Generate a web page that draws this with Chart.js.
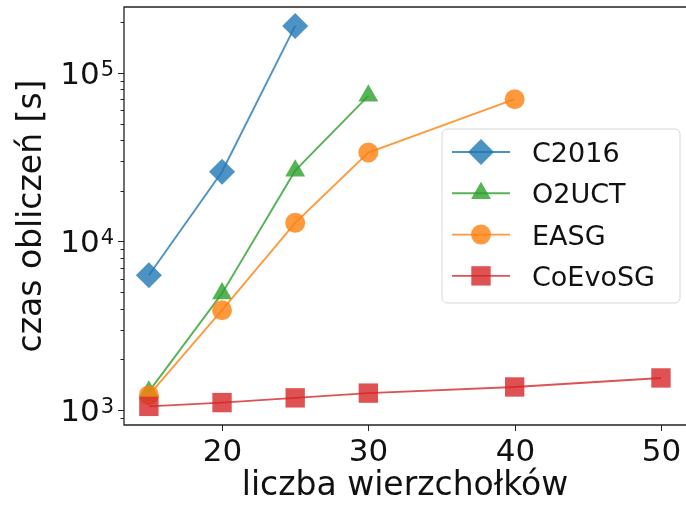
<!DOCTYPE html>
<html>
<head>
<meta charset="utf-8">
<script src="https://cdn.jsdelivr.net/npm/chart.js@4.4.1/dist/chart.umd.min.js"></script>
<style>
  body { margin: 0; background: #fff; }
  #wrap { width: 686px; height: 506px; }
</style>
</head>
<body>
<div id="wrap"><canvas id="timeChart" width="686" height="506"></canvas></div>
<script>
// computation time vs. number of vertices, log scale
const seriesNames = ["C2016", "O2UCT", "EASG", "CoEvoSG"];
const xC2016 = [15, 20, 25];
const yC2016 = [6300, 25900, 190000];
const xO2UCT = [15, 20, 25, 30];
const yO2UCT = [1285, 4920, 26300, 73100];
const xEASG = [15, 20, 25, 30, 40];
const yEASG = [1225, 3910, 12900, 33700, 69800];
const xCoEvoSG = [15, 20, 25, 30, 40, 50];
const yCoEvoSG = [1051, 1107, 1181, 1260, 1370, 1550];
const xTicks = [20, 30, 40, 50];
const yTicks = [1000, 10000, 100000];

const FONT = "'DejaVu Sans', sans-serif";

function points(xs, ys) {
  return xs.map((x, i) => ({ x: x, y: ys[i] }));
}

function series(label, xs, ys, rgb, style, radius, order) {
  return {
    label: label,
    data: points(xs, ys),
    borderColor: "rgba(" + rgb + ",0.8)",
    backgroundColor: "rgba(" + rgb + ",0.8)",
    borderWidth: 1.9,
    pointStyle: style,
    pointRadius: radius,
    pointHoverRadius: radius,
    pointBorderWidth: 0,
    pointBackgroundColor: "rgba(" + rgb + ",0.8)",
    tension: 0,
    order: order,
  };
}

// frame, log ticks with 10^n labels, and the legend box
const decorations = {
  id: "decorations",
  afterDraw(chart) {
    const ctx = chart.ctx;
    const a = chart.chartArea;
    const ys = chart.scales.y;
    const xs = chart.scales.x;
    ctx.save();
    ctx.strokeStyle = "#222";
    ctx.lineWidth = 1.3;
    ctx.beginPath();
    ctx.moveTo(a.right + 2, a.top);
    ctx.lineTo(a.left, a.top);
    ctx.lineTo(a.left, a.bottom);
    ctx.lineTo(a.right + 2, a.bottom);
    ctx.stroke();

    // y ticks, major and minor
    ctx.lineWidth = 1;
    for (let e = 2; e <= 5; e++) {
      for (let m = 1; m <= 9; m++) {
        const v = m * Math.pow(10, e);
        if (v < ys.min || v > ys.max) continue;
        const py = Math.round(ys.getPixelForValue(v)) + 0.5;
        const len = m === 1 ? 6 : 3.5;
        ctx.beginPath();
        ctx.moveTo(a.left - len, py);
        ctx.lineTo(a.left, py);
        ctx.stroke();
      }
    }
    // x ticks
    ctx.fillStyle = "#111";
    ctx.textBaseline = "alphabetic";
    ctx.font = "31px " + FONT;
    ctx.textAlign = "center";
    xTicks.forEach((v) => {
      const px = Math.round(xs.getPixelForValue(v)) + 0.5;
      ctx.beginPath();
      ctx.moveTo(px, a.bottom);
      ctx.lineTo(px, a.bottom + 6);
      ctx.stroke();
      ctx.fillText(String(v), px, 461);
    });

    // y labels as 10 with a raised exponent
    yTicks.forEach((v) => {
      const py = ys.getPixelForValue(v);
      const exp = String(Math.round(Math.log10(v)));
      ctx.font = "21px " + FONT;
      const ew = ctx.measureText(exp).width;
      ctx.textAlign = "left";
      ctx.fillText(exp, 114 - ew, py + 3);
      ctx.font = "31px " + FONT;
      ctx.textAlign = "right";
      ctx.fillText("10", 114 - ew - 1, py + 11);
    });

    // legend
    const bx = 442, by = 129, bw = 238, bh = 174, r = 5;
    ctx.beginPath();
    ctx.moveTo(bx + r, by);
    ctx.arcTo(bx + bw, by, bx + bw, by + bh, r);
    ctx.arcTo(bx + bw, by + bh, bx, by + bh, r);
    ctx.arcTo(bx, by + bh, bx, by, r);
    ctx.arcTo(bx, by, bx + bw, by, r);
    ctx.closePath();
    ctx.fillStyle = "rgba(255,255,255,0.8)";
    ctx.fill();
    ctx.strokeStyle = "#d6d6d6";
    ctx.lineWidth = 1;
    ctx.stroke();

    ctx.font = "27px " + FONT;
    ctx.textAlign = "left";
    seriesNames.forEach((name, i) => {
      const ds = chart.data.datasets.find((d) => d.label === name);
      const cy = 152 + i * 41.3;
      ctx.strokeStyle = ds.borderColor;
      ctx.lineWidth = ds.borderWidth;
      ctx.beginPath();
      ctx.moveTo(452, cy);
      ctx.lineTo(510, cy);
      ctx.stroke();
      ctx.fillStyle = ds.pointBackgroundColor;
      Chart.helpers.drawPoint(ctx, { pointStyle: ds.pointStyle, radius: ds.pointRadius, borderWidth: 0, rotation: 0 }, 481, cy);
      ctx.fillStyle = "#111";
      ctx.fillText(name, 532, cy + 10);
    });
    ctx.restore();
  },
};

const ctx = document.getElementById("timeChart").getContext("2d");
const timeChart = new Chart(ctx, {
  type: "line",
  data: {
    datasets: [
      series("C2016", xC2016, yC2016, "31,119,180", "rectRot", 13, 3),
      series("O2UCT", xO2UCT, yO2UCT, "44,160,44", "triangle", 11.5, 2),
      series("EASG", xEASG, yEASG, "255,127,14", "circle", 10, 1),
      series("CoEvoSG", xCoEvoSG, yCoEvoSG, "214,39,40", "rect", 13.7, 0),
    ],
  },
  options: {
    responsive: false,
    animation: false,
    events: [],
    layout: { autoPadding: false, padding: { top: 7, right: 0, bottom: 0, left: 0 } },
    plugins: {
      legend: { display: false },
      tooltip: { enabled: false },
    },
    scales: {
      x: {
        type: "linear",
        min: 13.3,
        max: 51.71,
        afterBuildTicks: (scale) => {
          scale.ticks = xTicks.map((v) => ({ value: v }));
        },
        afterFit: (scale) => {
          scale.height = 81;
          scale.paddingLeft = 0;
          scale.paddingRight = 0;
        },
        grid: { display: false, drawTicks: false },
        border: { display: false },
        ticks: { display: false },
        title: {
          display: true,
          text: "liczba wierzchołków",
          color: "#111",
          font: { family: FONT, size: 33 },
          padding: { top: 0, bottom: 0 },
        },
      },
      y: {
        type: "logarithmic",
        min: 815,
        max: 246000,
        afterBuildTicks: (scale) => {
          scale.ticks = yTicks.map((v) => ({ value: v }));
        },
        afterFit: (scale) => {
          scale.width = 124;
          scale.paddingTop = 0;
          scale.paddingBottom = 0;
        },
        grid: { display: false, drawTicks: false },
        border: { display: false },
        ticks: { display: false },
        title: {
          display: true,
          text: "czas obliczeń [s]",
          color: "#111",
          font: { family: FONT, size: 33 },
          padding: { top: 13, bottom: 0 },
        },
      },
    },
  },
  plugins: [decorations],
});
</script>
</body>
</html>
